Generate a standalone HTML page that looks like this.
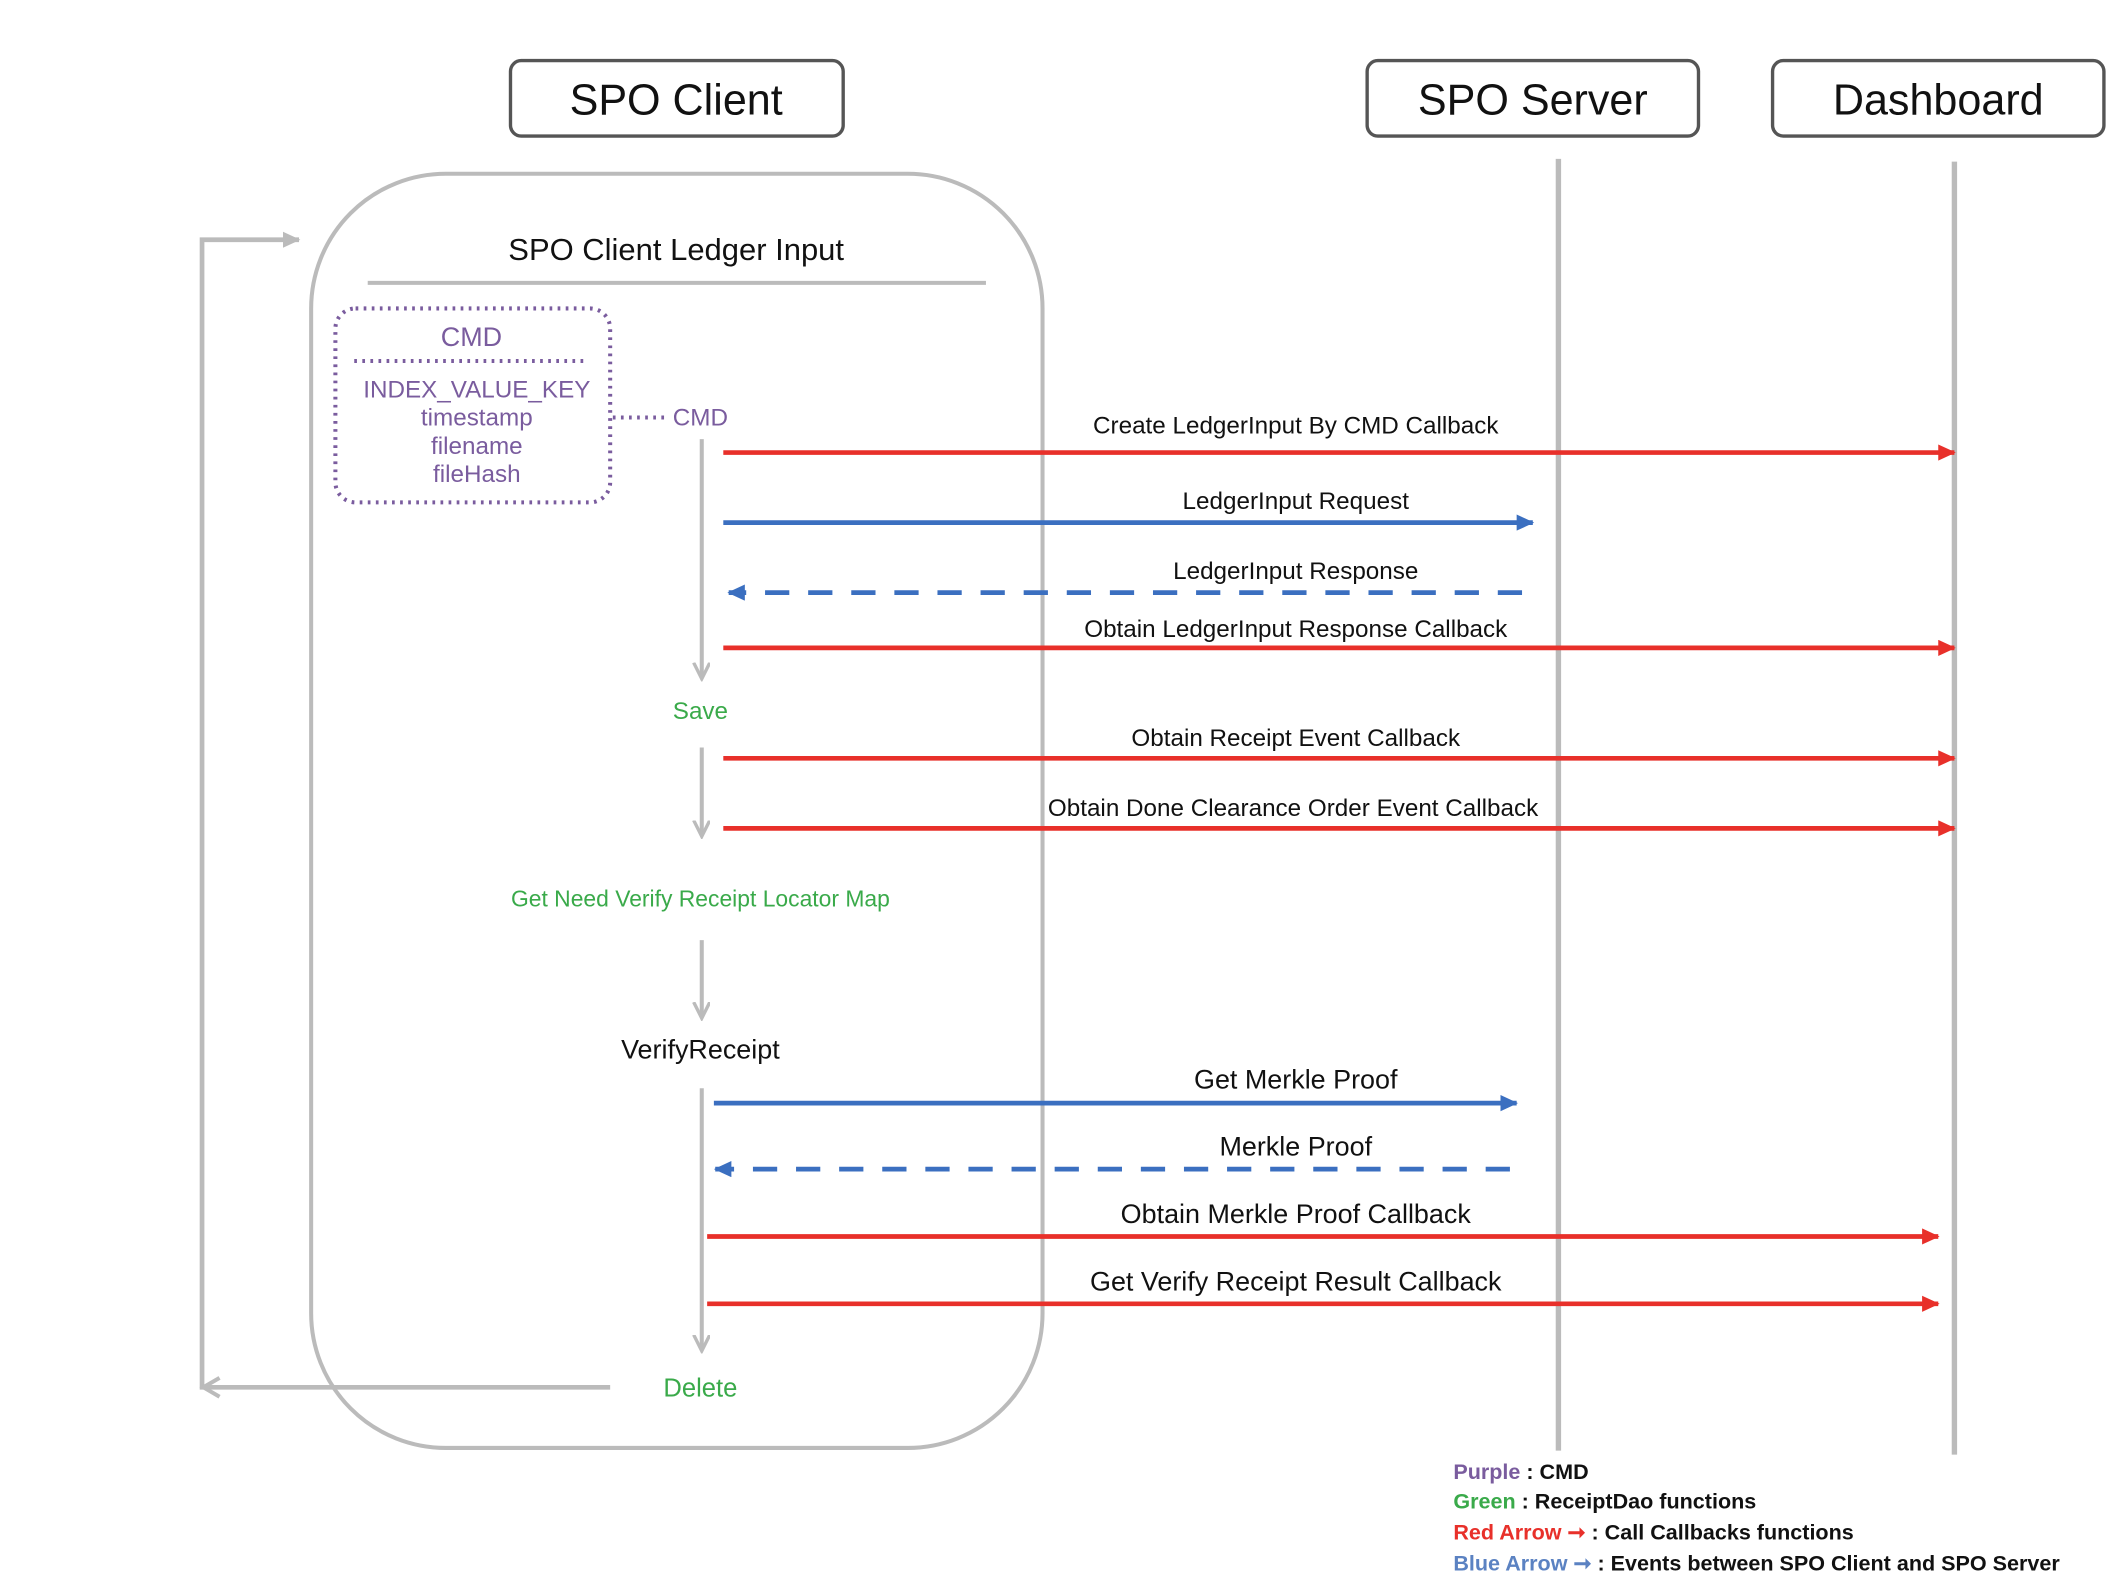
<!DOCTYPE html>
<html><head><meta charset="utf-8"><style>
html,body{margin:0;padding:0;background:#fff}
svg{display:block}
text{font-family:"Liberation Sans",sans-serif}
</style></head><body>
<svg width="2112" height="1588" viewBox="0 0 1568 1179" preserveAspectRatio="none" xmlns="http://www.w3.org/2000/svg">
<defs>
<marker id="r" markerWidth="8" markerHeight="8" refX="7" refY="4" orient="auto" markerUnits="userSpaceOnUse"><path d="M0,0 L8,4 L0,8z" fill="#e8302a" transform="scale(1.6) translate(-3,-1.5)"/></marker>
<marker id="b" markerWidth="14" markerHeight="14" refX="12" refY="6" orient="auto" markerUnits="userSpaceOnUse"><path d="M0,0 L13,6 L0,12z" fill="#3b6fc0"/></marker>
<marker id="rr" markerWidth="14" markerHeight="14" refX="12" refY="6" orient="auto" markerUnits="userSpaceOnUse"><path d="M0,0 L13,6 L0,12z" fill="#e8302a"/></marker>
<marker id="g" markerWidth="14" markerHeight="14" refX="11" refY="6" orient="auto" markerUnits="userSpaceOnUse"><path d="M0,0 L12,6 L0,12" fill="none" stroke="#bbb" stroke-width="2.5"/></marker>
<marker id="gf" markerWidth="14" markerHeight="14" refX="12" refY="6" orient="auto" markerUnits="userSpaceOnUse"><path d="M0,0 L13,6 L0,12z" fill="#bbb"/></marker>
</defs>
<!-- header boxes -->
<g fill="#fff" stroke="#555" stroke-width="2.5">
<rect x="379" y="45" width="247" height="56" rx="8"/>
<rect x="1015" y="45" width="246" height="56" rx="8"/>
<rect x="1316" y="45" width="246" height="56" rx="8"/>
</g>
<g font-size="32" text-anchor="middle" fill="#111">
<text x="502" y="85">SPO Client</text>
<text x="1138" y="85">SPO Server</text>
<text x="1439" y="85">Dashboard</text>
</g>
<!-- lifelines -->
<line x1="1157" y1="118" x2="1157" y2="1077" stroke="#bbb" stroke-width="4"/>
<line x1="1451" y1="120" x2="1451" y2="1080" stroke="#bbb" stroke-width="4"/>
<!-- big box -->
<rect x="231" y="129" width="543" height="946" rx="100" fill="none" stroke="#bbb" stroke-width="3"/>
<text x="502" y="193" font-size="23" text-anchor="middle" fill="#111">SPO Client Ledger Input</text>
<line x1="273" y1="210" x2="732" y2="210" stroke="#bbb" stroke-width="3"/>
<!-- loop -->
<polyline points="453,1030 150,1030 150,178 222,178" fill="none" stroke="#bbb" stroke-width="3.5" marker-end="url(#gf)"/>
<path d="M163,1023 L151,1030 L163,1037" fill="none" stroke="#bbb" stroke-width="3"/>
<!-- CMD box -->
<rect x="249" y="229" width="204" height="144" rx="15" fill="none" stroke="#7a5c9e" stroke-width="3" stroke-dasharray="2,4"/>
<line x1="263" y1="268" x2="437" y2="268" stroke="#7a5c9e" stroke-width="3" stroke-dasharray="2,4"/>
<g fill="#7a5c9e" font-size="18" text-anchor="middle">
<text x="350" y="257" font-size="20">CMD</text>
<text x="354" y="295">INDEX_VALUE_KEY</text>
<text x="354" y="316">timestamp</text>
<text x="354" y="337">filename</text>
<text x="354" y="358">fileHash</text>
<text x="520" y="316">CMD</text>
</g>
<line x1="455" y1="310" x2="493" y2="310" stroke="#7a5c9e" stroke-width="3" stroke-dasharray="2,4"/>
<!-- vertical gray arrows -->
<g stroke="#bbb" stroke-width="3">
<line x1="521" y1="326" x2="521" y2="503" marker-end="url(#g)"/>
<line x1="521" y1="555" x2="521" y2="620" marker-end="url(#g)"/>
<line x1="521" y1="698" x2="521" y2="755" marker-end="url(#g)"/>
<line x1="521" y1="808" x2="521" y2="1002" marker-end="url(#g)"/>
</g>
<g text-anchor="middle" fill="#3aaa4a" font-size="18">
<text x="520" y="534">Save</text>
<text x="520" y="673" font-size="17">Get Need Verify Receipt Locator Map</text>
<text x="520" y="1037" font-size="19">Delete</text>
</g>
<text x="520" y="786" text-anchor="middle" font-size="20" fill="#111">VerifyReceipt</text>
<!-- red arrows -->
<g stroke="#e8302a" stroke-width="3.5" marker-end="url(#rr)">
<line x1="537" y1="336" x2="1451" y2="336"/>
<line x1="537" y1="481" x2="1451" y2="481"/>
<line x1="537" y1="563" x2="1451" y2="563"/>
<line x1="537" y1="615" x2="1451" y2="615"/>
<line x1="525" y1="918" x2="1439" y2="918"/>
<line x1="525" y1="968" x2="1439" y2="968"/>
</g>
<!-- blue arrows -->
<g stroke="#3b6fc0" stroke-width="3.5">
<line x1="537" y1="388" x2="1138" y2="388" marker-end="url(#b)"/>
<line x1="1130" y1="440" x2="541" y2="440" stroke-dasharray="18,14" marker-end="url(#b)"/>
<line x1="530" y1="819" x2="1126" y2="819" marker-end="url(#b)"/>
<line x1="1121" y1="868" x2="531" y2="868" stroke-dasharray="18,14" marker-end="url(#b)"/>
</g>
<g text-anchor="middle" font-size="18" fill="#111">
<text x="962" y="322">Create LedgerInput By CMD Callback</text>
<text x="962" y="378">LedgerInput Request</text>
<text x="962" y="430">LedgerInput Response</text>
<text x="962" y="473">Obtain LedgerInput Response Callback</text>
<text x="962" y="554">Obtain Receipt Event Callback</text>
<text x="960" y="606">Obtain  Done Clearance Order Event Callback</text>
<text x="962" y="808" font-size="20">Get Merkle Proof</text>
<text x="962" y="858" font-size="20">Merkle Proof</text>
<text x="962" y="908" font-size="20">Obtain  Merkle Proof Callback</text>
<text x="962" y="958" font-size="20">Get Verify Receipt Result Callback</text>
</g>
<!-- legend -->
<g font-size="16" font-weight="bold" fill="#111">
<text x="1079" y="1098"><tspan fill="#7a5c9e">Purple</tspan> : CMD</text>
<text x="1079" y="1120"><tspan fill="#3aaa4a">Green</tspan> : ReceiptDao functions</text>
<text x="1079" y="1143"><tspan fill="#e8302a">Red Arrow ➞</tspan> : Call Callbacks functions</text>
<text x="1079" y="1166"><tspan fill="#5b82c2">Blue Arrow ➞</tspan> : Events between SPO Client and SPO Server</text>
</g>
</svg>
</body></html>
